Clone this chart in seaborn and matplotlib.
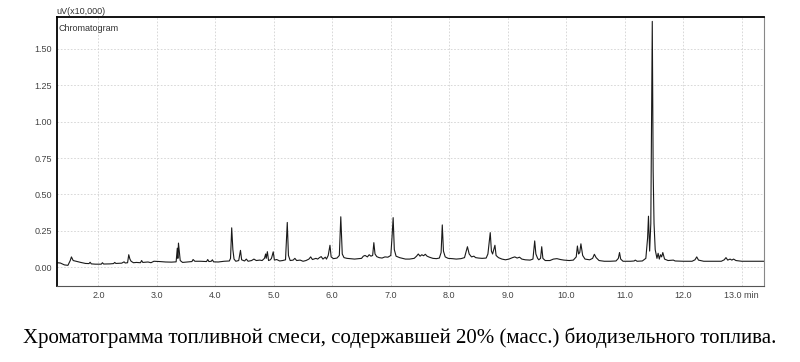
import numpy as np
import pandas as pd
import matplotlib.pyplot as plt
import seaborn as sns
from matplotlib.ticker import MultipleLocator

# вершины хроматограммы: время (мин) и сигнал (uV x10 000)
rt = [1.29, 1.35, 1.42, 1.48, 1.52, 1.54, 1.57, 1.62, 1.70, 1.78, 1.84, 1.86, 1.88, 1.95,
      2.05, 2.07, 2.09, 2.20, 2.26, 2.28, 2.30, 2.40, 2.44, 2.46, 2.50, 2.52, 2.54, 2.56,
      2.60, 2.65, 2.72, 2.74, 2.76, 2.85, 2.90, 2.95, 3.05, 3.15, 3.25, 3.33, 3.35, 3.36,
      3.37, 3.40, 3.44, 3.52, 3.60, 3.62, 3.65, 3.75, 3.85, 3.87, 3.89, 3.93, 3.95, 3.97,
      4.05, 4.15, 4.24, 4.26, 4.28, 4.30, 4.32, 4.35, 4.40, 4.43, 4.45, 4.50, 4.53, 4.56,
      4.62, 4.66, 4.70, 4.76, 4.80, 4.84, 4.86, 4.87, 4.89, 4.91, 4.94, 4.96, 4.99, 5.01,
      5.05, 5.10, 5.15, 5.20, 5.23, 5.25, 5.28, 5.33, 5.36, 5.39, 5.45, 5.50, 5.55, 5.60,
      5.63, 5.66, 5.72, 5.75, 5.78, 5.81, 5.84, 5.88, 5.90, 5.93, 5.96, 5.98, 6.02, 6.08,
      6.12, 6.145, 6.17, 6.20, 6.25, 6.30, 6.38, 6.45, 6.50, 6.53, 6.56, 6.60, 6.63, 6.66,
      6.69, 6.71, 6.73, 6.76, 6.80, 6.85, 6.90, 6.95, 7.00, 7.02, 7.04, 7.06, 7.09, 7.15,
      7.20, 7.25, 7.32, 7.40, 7.44, 7.47, 7.50, 7.53, 7.56, 7.59, 7.62, 7.66, 7.72, 7.78,
      7.83, 7.86, 7.88, 7.90, 7.93, 7.98, 8.05, 8.12, 8.20, 8.26, 8.29, 8.31, 8.34, 8.38,
      8.42, 8.45, 8.50, 8.56, 8.63, 8.66, 8.70, 8.72, 8.74, 8.78, 8.80, 8.84, 8.90, 8.96,
      9.02, 9.08, 9.12, 9.16, 9.20, 9.24, 9.30, 9.38, 9.43, 9.46, 9.48, 9.51, 9.53, 9.56,
      9.58, 9.60, 9.64, 9.72, 9.78, 9.84, 9.90, 9.96, 10.05, 10.12, 10.17, 10.19, 10.21,
      10.23, 10.25, 10.28, 10.32, 10.40, 10.45, 10.48, 10.51, 10.56, 10.65, 10.75, 10.85,
      10.89, 10.91, 10.93, 10.97, 11.10, 11.16, 11.18, 11.21, 11.30, 11.36, 11.39, 11.405,
      11.425, 11.445, 11.47, 11.485, 11.50, 11.52, 11.55, 11.57, 11.59, 11.61, 11.63, 11.65,
      11.68, 11.74, 11.83, 11.86, 12.00, 12.15, 12.20, 12.23, 12.26, 12.35, 12.50, 12.65,
      12.70, 12.73, 12.76, 12.80, 12.83, 12.86, 12.90, 13.00, 13.38]
signal = [0.030, 0.028, 0.015, 0.012, 0.045, 0.070, 0.045, 0.040, 0.032, 0.025, 0.024, 0.033, 0.022, 0.020,
          0.020, 0.030, 0.021, 0.022, 0.024, 0.032, 0.025, 0.027, 0.036, 0.028, 0.030, 0.085, 0.055, 0.040,
          0.030, 0.032, 0.030, 0.045, 0.032, 0.035, 0.030, 0.040, 0.038, 0.035, 0.034, 0.036, 0.130, 0.060,
          0.165, 0.045, 0.032, 0.035, 0.038, 0.052, 0.040, 0.040, 0.038, 0.052, 0.038, 0.040, 0.050, 0.036,
          0.035, 0.040, 0.042, 0.060, 0.270, 0.120, 0.055, 0.040, 0.045, 0.115, 0.050, 0.042, 0.055, 0.040,
          0.045, 0.055, 0.045, 0.048, 0.045, 0.060, 0.090, 0.060, 0.106, 0.045, 0.050, 0.060, 0.105, 0.048,
          0.052, 0.042, 0.045, 0.050, 0.307, 0.080, 0.045, 0.048, 0.060, 0.045, 0.048, 0.040, 0.045, 0.055,
          0.070, 0.052, 0.060, 0.055, 0.065, 0.072, 0.055, 0.068, 0.055, 0.080, 0.150, 0.070, 0.058, 0.062,
          0.080, 0.346, 0.090, 0.065, 0.060, 0.058, 0.055, 0.058, 0.060, 0.075, 0.080, 0.070, 0.085, 0.075,
          0.080, 0.168, 0.090, 0.072, 0.065, 0.062, 0.070, 0.068, 0.080, 0.200, 0.340, 0.120, 0.075, 0.065,
          0.060, 0.055, 0.055, 0.060, 0.075, 0.090, 0.075, 0.085, 0.078, 0.088, 0.075, 0.068, 0.060, 0.058,
          0.062, 0.100, 0.290, 0.110, 0.070, 0.060, 0.058, 0.055, 0.058, 0.065, 0.110, 0.140, 0.090, 0.070,
          0.075, 0.065, 0.062, 0.060, 0.062, 0.090, 0.237, 0.110, 0.090, 0.150, 0.080, 0.065, 0.055, 0.050,
          0.055, 0.065, 0.070, 0.062, 0.068, 0.055, 0.050, 0.048, 0.055, 0.180, 0.090, 0.060, 0.050, 0.060,
          0.140, 0.060, 0.045, 0.045, 0.055, 0.058, 0.052, 0.048, 0.045, 0.048, 0.070, 0.145, 0.090,
          0.100, 0.160, 0.080, 0.055, 0.050, 0.060, 0.088, 0.065, 0.045, 0.040, 0.040, 0.042,
          0.060, 0.100, 0.055, 0.040, 0.040, 0.042, 0.048, 0.040, 0.042, 0.060, 0.200, 0.350,
          0.110, 0.300, 1.690, 0.660, 0.300, 0.120, 0.060, 0.095, 0.055, 0.085, 0.070, 0.100,
          0.055, 0.045, 0.048, 0.042, 0.040, 0.040, 0.050, 0.070, 0.048, 0.040, 0.040, 0.040,
          0.050, 0.065, 0.048, 0.055, 0.048, 0.055, 0.045, 0.040, 0.040]

x_ticks = [2.0, 3.0, 4.0, 5.0, 6.0, 7.0, 8.0, 9.0, 10.0, 11.0, 12.0, 13.0]
x_labels = ["2.0", "3.0", "4.0", "5.0", "6.0", "7.0", "8.0", "9.0", "10.0", "11.0", "12.0", "13.0 min"]
y_ticks = [0.00, 0.25, 0.50, 0.75, 1.00, 1.25, 1.50]

caption = "Хроматограмма топливной смеси, содержавшей 20% (масс.) биодизельного топлива."

df = pd.DataFrame({"rt": rt, "signal": signal})

sns.set_style("white")
plt.rcParams['font.family'] = ['Liberation Sans', 'DejaVu Sans']

fig = plt.figure(figsize=(8, 3.62), dpi=100)
ax = fig.add_axes([0.071, 0.21, 0.884, 0.743])

sns.lineplot(data=df, x="rt", y="signal", ax=ax, color="#1a1a1a",
             linewidth=0.8, estimator=None, sort=False)

ax.set_xlim(1.29, 13.38)
ax.set_ylim(-0.13, 1.72)
ax.set_xticks(x_ticks)
ax.set_xticklabels(x_labels)
ax.set_yticks(y_ticks)
ax.set_yticklabels([f"{v:.2f}" for v in y_ticks])
ax.xaxis.set_minor_locator(MultipleLocator(0.1))

ax.grid(True, which="major", color="#d2d2d2", linestyle=(0, (2, 2)), linewidth=0.6)
ax.tick_params(axis="both", which="major", labelsize=6.5, labelcolor="#444444",
               length=2, width=0.6, color="#555555", pad=1.5)
ax.tick_params(axis="x", which="minor", length=1.5, width=0.5, color="#777777")
ax.set_xlabel("")
ax.set_ylabel("")

ax.spines["left"].set_color("black")
ax.spines["left"].set_linewidth(1.3)
ax.spines["top"].set_color("black")
ax.spines["top"].set_linewidth(1.3)
ax.spines["right"].set_color("#888888")
ax.spines["right"].set_linewidth(0.8)
ax.spines["bottom"].set_color("#555555")
ax.spines["bottom"].set_linewidth(0.8)

ax.text(0.0, 1.005, "uV(x10,000)", transform=ax.transAxes, fontsize=6.5,
        color="#333333", ha="left", va="bottom")
ax.text(0.003, 0.975, "Chromatogram", transform=ax.transAxes, fontsize=6.5,
        color="#333333", ha="left", va="top")

fig.text(0.5, 0.066, caption, ha="center", va="center", fontsize=15,
         family=["Liberation Serif", "DejaVu Serif"], color="black")

fig.savefig("out.png", dpi=100)
